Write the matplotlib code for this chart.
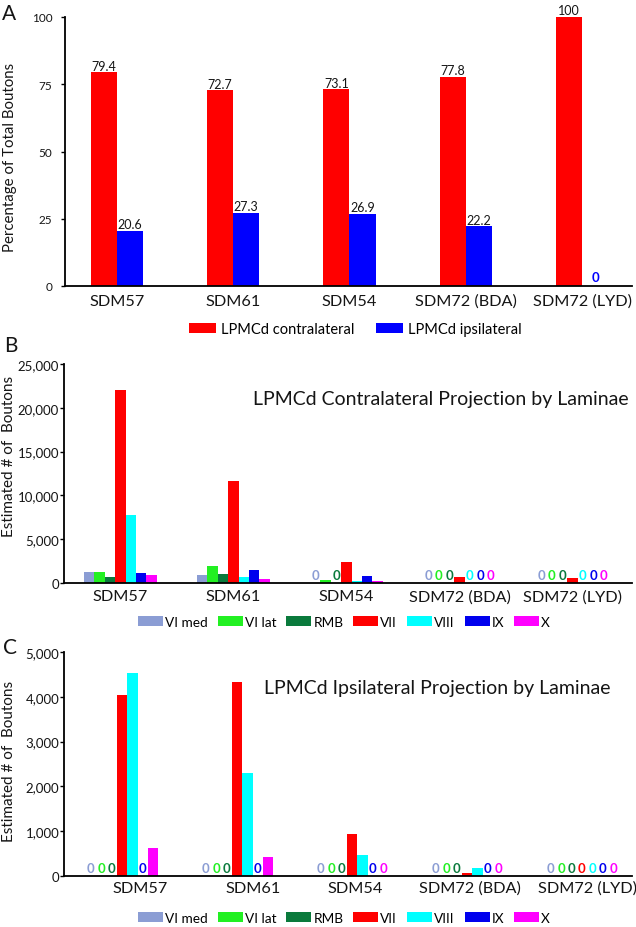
import matplotlib
matplotlib.use("Agg")
import matplotlib.pyplot as plt
import numpy as np

plt.rcParams['font.family'] = ['Lato', 'DejaVu Sans']

# ---- data ----
samples = ['SDM57', 'SDM61', 'SDM54', 'SDM72 (BDA)', 'SDM72 (LYD)']

# panel A: percentage of total boutons
contra_pct = [79.4, 72.7, 73.1, 77.8, 100]
ipsi_pct = [20.6, 27.3, 26.9, 22.2, 0]

laminae = ['VI med', 'VI lat', 'RMB', 'VII', 'VIII', 'IX', 'X']
lam_colors = ['#8b9dd4', '#22f022', '#0a7a3c', '#ff0000', '#00ffff', '#0000ee', '#ff00ff']

# panel B: contralateral boutons by lamina (per sample)
contra_vi_med = [1300, 900, 0, 0, 0]
contra_vi_lat = [1200, 1900, 300, 0, 0]
contra_rmb = [650, 1000, 0, 0, 0]
contra_vii = [22000, 11600, 2400, 730, 540]
contra_viii = [7800, 730, 230, 0, 0]
contra_ix = [1150, 1450, 780, 0, 0]
contra_x = [920, 460, 270, 0, 0]

# panel C: ipsilateral boutons by lamina (per sample)
ipsi_vi_med = [0, 0, 0, 0, 0]
ipsi_vi_lat = [0, 0, 0, 0, 0]
ipsi_rmb = [0, 0, 0, 0, 0]
ipsi_vii = [4050, 4330, 930, 60, 0]
ipsi_viii = [4530, 2290, 460, 170, 0]
ipsi_ix = [0, 0, 0, 0, 0]
ipsi_x = [620, 426, 0, 0, 0]

W, H = 636, 928
fig = plt.figure(figsize=(W / 100, H / 100), dpi=100)
TXT = '#151515'


def rect(left, right, top, bottom):
    return [left / W, 1 - bottom / H, (right - left) / W, (bottom - top) / H]


def fx(x):
    return x / W


def fy(y):
    return 1 - y / H


def style_axes(ax, ypad):
    for s in ['top', 'right']:
        ax.spines[s].set_visible(False)
    for s in ['left', 'bottom']:
        ax.spines[s].set_linewidth(1.3)
        ax.spines[s].set_color('black')
    ax.tick_params(axis='y', direction='out', length=3, width=1, pad=ypad, labelcolor=TXT)
    ax.tick_params(axis='x', length=0, labelcolor=TXT)


# ---- panel A ----
axA = fig.add_axes(rect(65, 632, 18, 287))
xa = np.arange(len(samples))
wa = 0.224
b1 = axA.bar(xa - wa / 2, contra_pct, wa, color='#ff0000', label='LPMCd contralateral')
b2 = axA.bar(xa + wa / 2, ipsi_pct, wa, color='#0000ff', label='LPMCd ipsilateral')
for bars in (b1, b2):
    for bar in bars:
        v = bar.get_height()
        cx = bar.get_x() + bar.get_width() / 2
        if v == 0:
            axA.annotate('0', (cx, 0), xytext=(0, 2), textcoords='offset points',
                         ha='center', va='bottom', fontsize=9.5, fontweight='bold',
                         color=bar.get_facecolor())
        else:
            axA.annotate('{:g}'.format(v), (cx, v), xytext=(0, 0.5), textcoords='offset points',
                         ha='center', va='bottom', fontsize=9, color=TXT,
                         annotation_clip=False)
axA.set_xlim(-0.447, 4.43)
axA.set_ylim(0, 100)
axA.set_yticks([0, 25, 50, 75, 100])
axA.set_xticks(xa)
axA.set_xticklabels(samples, fontsize=11.7)
style_axes(axA, 6)
axA.tick_params(axis='y', labelsize=8.5)
axA.tick_params(axis='x', pad=5.5)
axA.legend(loc='center', bbox_to_anchor=(fx(355), fy(330)), bbox_transform=fig.transFigure,
           ncol=2, frameon=False, fontsize=10.5, handlelength=1.85, handleheight=0.75,
           handletextpad=0.34, columnspacing=1.5)


def lamina_panel(ax, series, spacing_px, xlim, ymax, step, tick_shift, xpad):
    x = np.arange(len(samples))
    w = 10.4 / spacing_px
    for k, (vals, col, lab) in enumerate(zip(series, lam_colors, laminae)):
        pos = x + (k - 3) * w
        ax.bar(pos, vals, w, color=col, label=lab)
        for p, v in zip(pos, vals):
            if v == 0:
                ax.annotate('0', (p, 0), xytext=(0, 1.5), textcoords='offset points',
                            ha='center', va='bottom', fontsize=9.5, fontweight='bold', color=col)
    ax.set_xlim(*xlim)
    ax.set_ylim(0, ymax)
    ticks = np.arange(0, ymax + 1, step)
    ax.set_yticks(ticks)
    ax.set_yticklabels(['{:,}'.format(int(t)) for t in ticks])
    ax.set_xticks(x + np.array(tick_shift))
    ax.set_xticklabels(samples, fontsize=11.7)
    style_axes(ax, 0.5)
    ax.tick_params(axis='y', labelsize=9.5)
    ax.tick_params(axis='x', pad=xpad)


# ---- panel B ----
axB = fig.add_axes(rect(64, 632, 365, 584))
lamina_panel(axB, [contra_vi_med, contra_vi_lat, contra_rmb, contra_vii,
                   contra_viii, contra_ix, contra_x],
             113, (-0.5, 4.527), 25000, 5000, [0, 0, 0, 0, 0], 4.5)
axB.legend(loc='center', bbox_to_anchor=(fx(344), fy(623)), bbox_transform=fig.transFigure,
           ncol=7, frameon=False, fontsize=9.8, handlelength=1.84, handleheight=0.8,
           handletextpad=0.15, columnspacing=0.73)
fig.text(fx(441), fy(400), 'LPMCd Contralateral Projection by Laminae',
         ha='center', va='center', fontsize=14, color=TXT)

# ---- panel C ----
axC = fig.add_axes(rect(64, 632, 653, 877))
lamina_panel(axC, [ipsi_vi_med, ipsi_vi_lat, ipsi_rmb, ipsi_vii,
                   ipsi_viii, ipsi_ix, ipsi_x],
             115, (-0.504, 4.435), 5000, 1000, [0.16, 0.14, 0.03, 0.03, 0.05], 3.5)
axC.legend(loc='center', bbox_to_anchor=(fx(344), fy(919)), bbox_transform=fig.transFigure,
           ncol=7, frameon=False, fontsize=9.8, handlelength=1.84, handleheight=0.8,
           handletextpad=0.15, columnspacing=0.73)
fig.text(fx(437), fy(689), 'LPMCd Ipsilateral Projection by Laminae',
         ha='center', va='center', fontsize=14, color=TXT)

# axis titles and panel letters
fig.text(fx(10), fy(157), 'Percentage of Total Boutons', rotation=90,
         ha='center', va='center', fontsize=10.8, color=TXT)
fig.text(fx(9), fy(456), 'Estimated # of  Boutons', rotation=90,
         ha='center', va='center', fontsize=11, color=TXT)
fig.text(fx(9), fy(761), 'Estimated # of  Boutons', rotation=90,
         ha='center', va='center', fontsize=11, color=TXT)
for letter, (px, py) in zip('ABC', [(9, 14), (11, 346), (10, 648)]):
    fig.text(fx(px), fy(py), letter, ha='center', va='center', fontsize=15, color=TXT)

fig.savefig('out.png', dpi=100)
